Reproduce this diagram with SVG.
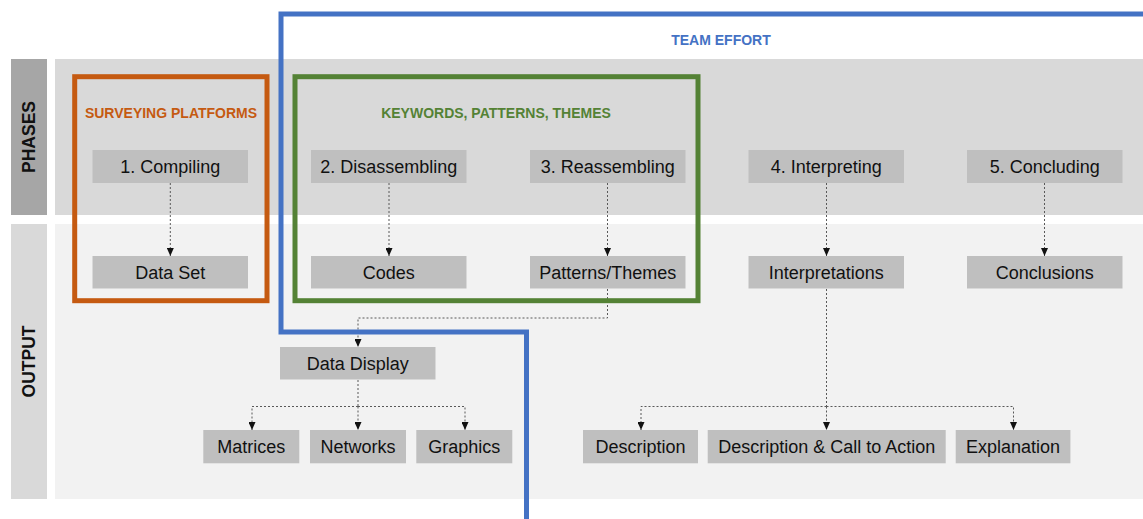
<svg xmlns="http://www.w3.org/2000/svg" width="1143" height="519" viewBox="0 0 1143 519">
<style>
.node rect{fill:#bfbfbf;}
.node text{font-family:"Liberation Sans",Arial,sans-serif;font-size:18px;fill:#111;text-anchor:middle;}
.lbl{font-family:"Liberation Sans",Arial,sans-serif;font-weight:bold;font-size:17.5px;fill:#111;text-anchor:middle;}
.title{font-family:"Liberation Sans",Arial,sans-serif;font-weight:bold;font-size:14px;text-anchor:middle;}
.conn path{fill:none;stroke:#595959;stroke-width:1;stroke-dasharray:2 2;marker-end:url(#arr);}
.conn path.nm{marker-end:none;}
</style>
<defs>
<marker id="arr" viewBox="0 0 8 7" refX="8" refY="3.5" markerWidth="8" markerHeight="7" markerUnits="userSpaceOnUse" orient="auto">
<path d="M0,0 L8,3.5 L0,7 Z" fill="#111"/>
</marker>
</defs>
<rect width="1143" height="519" fill="#fff"/>
<g id="bands">
<rect x="11" y="59" width="36" height="156" fill="#a6a6a6"/>
<rect x="55" y="59" width="1088" height="156" fill="#d9d9d9"/>
<rect x="11" y="224" width="36" height="275" fill="#d9d9d9"/>
<rect x="55" y="224" width="1088" height="275" fill="#f2f2f2"/>
<text class="lbl" transform="translate(29,137) rotate(-90)" x="0" y="6.3">PHASES</text>
<text class="lbl" transform="translate(29,361.5) rotate(-90)" x="0" y="6.3">OUTPUT</text>
</g>
<g id="connectors" class="conn">
<path d="M170.3,183 V256"/>
<path d="M389,183 V256"/>
<path d="M607.5,183 V256"/>
<path d="M826.5,183 V256"/>
<path d="M1044.5,183 V256"/>
<path d="M607.5,289 V318 H358 V347"/>
<path class="nm" d="M358,380 V406.5"/>
<path d="M358,406.5 H252 V430"/>
<path d="M358,406.5 V430"/>
<path d="M358,406.5 H465 V430"/>
<path class="nm" d="M826.5,289 V406.5"/>
<path d="M826.5,406.5 H641 V430"/>
<path d="M826.5,406.5 V430"/>
<path d="M826.5,406.5 H1013.5 V430"/>
</g>
<g id="n1" class="node"><rect x="92.5" y="150" width="155.5" height="33"/><text x="170.3" y="173">1. Compiling</text></g>
<g id="n2" class="node"><rect x="311" y="150" width="155.5" height="33"/><text x="388.8" y="173">2. Disassembling</text></g>
<g id="n3" class="node"><rect x="530" y="150" width="155.5" height="33"/><text x="607.8" y="173">3. Reassembling</text></g>
<g id="n4" class="node"><rect x="748.5" y="150" width="155.5" height="33"/><text x="826.3" y="173">4. Interpreting</text></g>
<g id="n5" class="node"><rect x="967" y="150" width="155.5" height="33"/><text x="1044.8" y="173">5. Concluding</text></g>
<g id="o1" class="node"><rect x="92.5" y="256" width="155.5" height="32.5"/><text x="170.3" y="278.7">Data Set</text></g>
<g id="o2" class="node"><rect x="311" y="256" width="155.5" height="32.5"/><text x="388.8" y="278.7">Codes</text></g>
<g id="o3" class="node"><rect x="530" y="256" width="155.5" height="32.5"/><text x="607.8" y="278.7">Patterns/Themes</text></g>
<g id="o4" class="node"><rect x="748.5" y="256" width="155.5" height="32.5"/><text x="826.3" y="278.7">Interpretations</text></g>
<g id="o5" class="node"><rect x="967" y="256" width="155.5" height="32.5"/><text x="1044.8" y="278.7">Conclusions</text></g>
<g id="dd" class="node"><rect x="280" y="347" width="155.5" height="32.5"/><text x="357.8" y="369.7">Data Display</text></g>
<g id="mat" class="node"><rect x="203.3" y="430" width="96" height="33.3"/><text x="251.3" y="453">Matrices</text></g>
<g id="net" class="node"><rect x="310" y="430" width="96" height="33.3"/><text x="358" y="453">Networks</text></g>
<g id="gra" class="node"><rect x="416.3" y="430" width="96" height="33.3"/><text x="464.3" y="453">Graphics</text></g>
<g id="desc" class="node"><rect x="583" y="430" width="115" height="33.3"/><text x="640.5" y="453">Description</text></g>
<g id="dcta" class="node"><rect x="707.7" y="430" width="238" height="33.3"/><text x="826.7" y="453">Description &amp; Call to Action</text></g>
<g id="expl" class="node"><rect x="955.7" y="430" width="114.7" height="33.3"/><text x="1013" y="453">Explanation</text></g>
<g id="surveying">
<rect x="74.7" y="76.7" width="192.3" height="224" fill="none" stroke="#c55a11" stroke-width="5"/>
<text class="title" x="171" y="118" fill="#c55a11">SURVEYING PLATFORMS</text>
</g>
<g id="keywords">
<rect x="295" y="76.7" width="403" height="224" fill="none" stroke="#548235" stroke-width="5"/>
<text class="title" x="496" y="118" fill="#548235">KEYWORDS, PATTERNS, THEMES</text>
</g>
<g id="team">
<path d="M1143,14 H281 V332 H526.5 V519" fill="none" stroke="#4472c4" stroke-width="5"/>
<text class="title" x="721" y="45" fill="#4472c4">TEAM EFFORT</text>
</g>
</svg>
